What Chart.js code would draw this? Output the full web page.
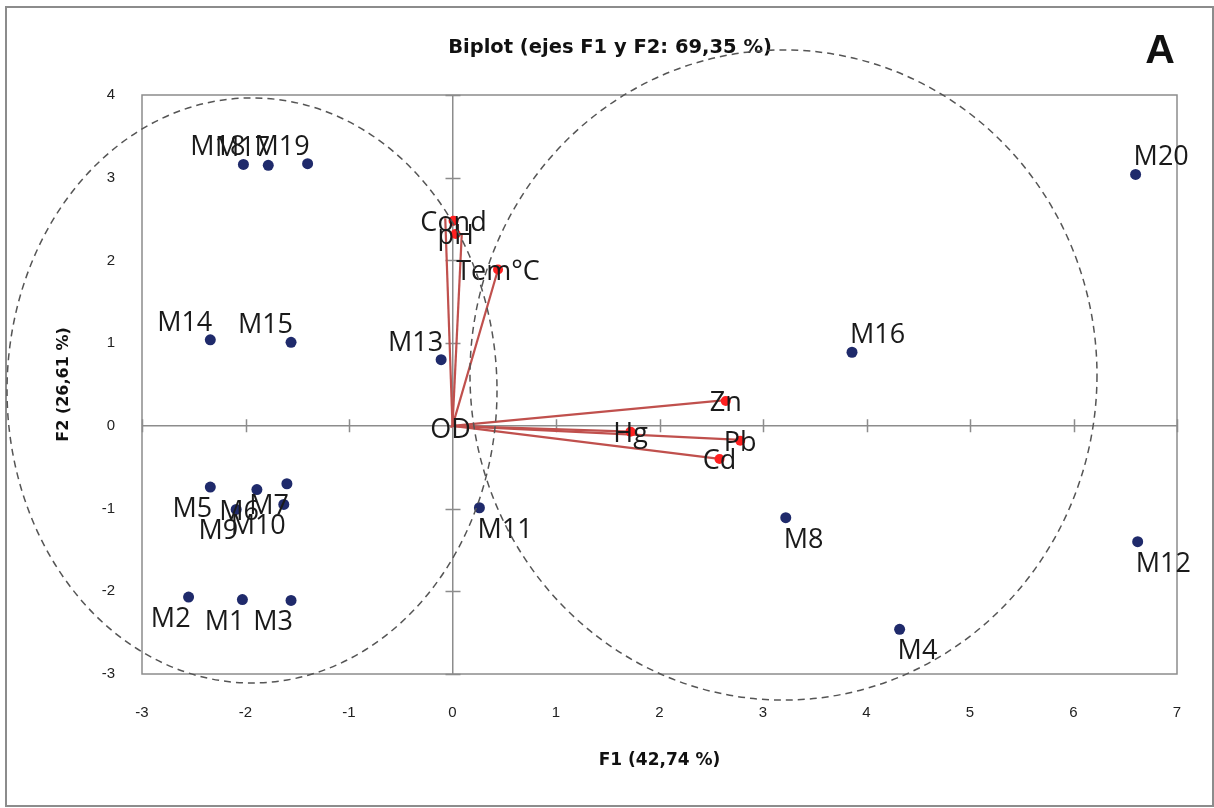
<!DOCTYPE html>
<html><head><meta charset="utf-8">
<script src="https://cdn.jsdelivr.net/npm/chart.js@4"></script>
<style>html,body{margin:0;padding:0;background:#fff}canvas{display:block}</style>
</head><body>
<canvas id="c" width="1214" height="808"></canvas>
<script>
// Observations (sites)
const obsNames = ['M1','M2','M3','M4','M5','M6','M7','M8','M9','M10','M11','M12','M13','M14','M15','M16','M17','M18','M19','M20'];
const obsF1 = [-2.03,-2.55,-1.56,4.32,-2.34,-1.89,-1.60,3.22,-2.09,-1.63,0.26,6.62,-0.11,-2.34,-1.56,3.86,-1.78,-2.02,-1.40,6.60];
const obsF2 = [-2.10,-2.07,-2.11,-2.46,-0.74,-0.77,-0.70,-1.11,-1.01,-0.95,-0.99,-1.40,0.80,1.04,1.01,0.89,3.15,3.16,3.17,3.04];
// Variables (loadings): marker positions
const varNames = ['Cond','pH','Tem°C','OD','Zn','Hg','Pb','Cd'];
const varF1 = [0.01,0.03,0.44,-0.02,2.64,1.72,2.78,2.58];
const varF2 = [2.48,2.32,1.89,-0.02,0.30,-0.07,-0.18,-0.40];
// Vector (arrow) end points as drawn
const vecF1 = [-0.07,0.09,0.44,-0.02,2.64,1.72,2.78,2.58];
const vecF2 = [2.51,2.33,1.89,-0.02,0.31,-0.07,-0.17,-0.40];
// Axes
const xMin = -3, xMax = 7, yMin = -3, yMax = 4;
const xTicks = [-3,-2,-1,0,1,2,3,4,5,6,7];
const yTicks = [-3,-2,-1,0,1,2,3,4];
// Grouping ellipses (data units)
const ellCX = [-1.937, 3.198];
const ellCY = [0.428, 0.615];
const ellRX = [2.367, 3.029];
const ellRY = [3.537, 3.93];

const titleText = 'Biplot (ejes F1 y F2: 69,35 %)';
const xTitle = 'F1 (42,74 %)';
const yTitle = 'F2 (26,61 %)';
const panelLetter = 'A';

const datasets = [];
datasets.push({
  label: 'vars', data: varF1.map((v,i)=>({x:v,y:varF2[i]})),
  pointRadius: varNames.map(n => n === 'OD' ? 0 : 5),
  pointBackgroundColor: '#ff2020', pointBorderWidth: 0, showLine: false, order: 0
});
datasets.push({
  label: 'obs', data: obsF1.map((v,i)=>({x:v,y:obsF2[i]})),
  pointRadius: 5.5, pointBackgroundColor: '#1f2a6b', pointBorderWidth: 0, showLine: false, order: 1
});
vecF1.forEach((v,i)=>{
  datasets.push({
    label: 'vec'+i, data: [{x:0,y:0},{x:v,y:vecF2[i]}],
    showLine: true, borderColor: '#c0504d', borderWidth: 2.2, pointRadius: 0, order: 2
  });
});

const decor = {
  id: 'decor',
  beforeDatasetsDraw(chart) {
    const {ctx, chartArea: a, scales: {x, y}} = chart;
    ctx.save();
    ctx.strokeStyle = '#8c8c8c';
    ctx.lineWidth = 1.5;
    ctx.strokeRect(a.left, a.top, a.right - a.left, a.bottom - a.top);
    const x0 = x.getPixelForValue(0), y0 = y.getPixelForValue(0);
    ctx.beginPath();
    xTicks.forEach(t => { if (t === 0) return; const px = Math.round(x.getPixelForValue(t)) + 0.5; ctx.moveTo(px, y0 - 6.5); ctx.lineTo(px, y0 + 6.5); });
    yTicks.forEach(t => { if (t === 0) return; const py = Math.round(y.getPixelForValue(t)) + 0.5; ctx.moveTo(x0 - 7, py); ctx.lineTo(x0 + 8, py); });
    ctx.stroke();
    ctx.restore();
  },
  afterDatasetsDraw(chart) {
    const {ctx, scales: {x, y}} = chart;
    ctx.save();
    ctx.font = '27px "Open Sans"';
    ctx.fillStyle = '#1a1a1a';
    ctx.textBaseline = 'alphabetic';
    obsNames.forEach((n, i) => {
      const px = x.getPixelForValue(obsF1[i]), py = y.getPixelForValue(obsF2[i]);
      const right = obsF1[i] >= 0, up = obsF2[i] >= 0;
      ctx.textAlign = right ? 'left' : 'right';
      ctx.fillText(n, px + (right ? -2 : 2), up ? py - 9 : py + 30);
    });
    ctx.textAlign = 'center';
    varNames.forEach((n, i) => {
      const px = x.getPixelForValue(varF1[i]), py = y.getPixelForValue(varF2[i]);
      ctx.fillText(n, px, py + 10);
    });
    ctx.restore();
  },
  afterDraw(chart) {
    const {ctx, scales: {x, y}} = chart;
    ctx.save();
    ctx.strokeStyle = '#8c8c8c';
    ctx.lineWidth = 2;
    ctx.strokeRect(6, 7, 1207, 799);
    ctx.fillStyle = '#111';
    ctx.textBaseline = 'alphabetic';
    ctx.textAlign = 'center';
    ctx.font = 'bold 19.5px "DejaVu Sans"';
    ctx.fillText(titleText, 610, 53);
    ctx.font = 'bold 41px "Liberation Sans"';
    ctx.fillText(panelLetter, 1160, 63);
    ctx.strokeStyle = '#555';
    ctx.lineWidth = 1.5;
    ctx.setLineDash([7, 5]);
    ellCX.forEach((cx, i) => {
      const pcx = x.getPixelForValue(cx), pcy = y.getPixelForValue(ellCY[i]);
      const prx = x.getPixelForValue(cx + ellRX[i]) - pcx;
      const pry = pcy - y.getPixelForValue(ellCY[i] + ellRY[i]);
      ctx.beginPath();
      ctx.ellipse(pcx, pcy, prx, pry, 0, 0, Math.PI * 2);
      ctx.stroke();
    });
    ctx.restore();
  }
};

new Chart(document.getElementById('c'), {
  type: 'scatter',
  data: { datasets },
  options: {
    responsive: false,
    devicePixelRatio: 1,
    animation: false,
    events: [],
    layout: { padding: { top: 95, right: 37, bottom: 0, left: 0 } },
    plugins: { legend: { display: false }, title: { display: false }, tooltip: { enabled: false } },
    scales: {
      x: {
        type: 'linear', position: 'bottom', min: xMin, max: xMax,
        afterBuildTicks: s => { s.ticks = xTicks.map(v => ({ value: v })); },
        afterFit: s => { s.height = 134; },
        grid: { drawTicks: false, lineWidth: 1.5, color: c => (c.tick && c.tick.value === 0) ? '#8c8c8c' : 'rgba(0,0,0,0)' },
        border: { display: false },
        ticks: { padding: 30, color: '#222', font: { family: 'Liberation Sans', size: 15 }, maxRotation: 0, autoSkip: false },
        title: { display: true, text: xTitle, color: '#111', font: { family: 'DejaVu Sans', size: 17, weight: 'bold' }, padding: { top: 0, bottom: 37 } }
      },
      y: {
        type: 'linear', position: 'left', min: yMin, max: yMax,
        afterBuildTicks: s => { s.ticks = yTicks.map(v => ({ value: v })); },
        afterFit: s => { s.width = 142; },
        grid: { drawTicks: false, lineWidth: 1.5, color: c => (c.tick && c.tick.value === 0) ? '#8c8c8c' : 'rgba(0,0,0,0)' },
        border: { display: false },
        ticks: { padding: 27, color: '#222', font: { family: 'Liberation Sans', size: 15 }, autoSkip: false },
        title: { display: true, text: yTitle, color: '#111', font: { family: 'DejaVu Sans', size: 16, weight: 'bold' }, padding: { top: 54, bottom: 0 } }
      }
    }
  },
  plugins: [decor]
});
</script>
</body></html>
